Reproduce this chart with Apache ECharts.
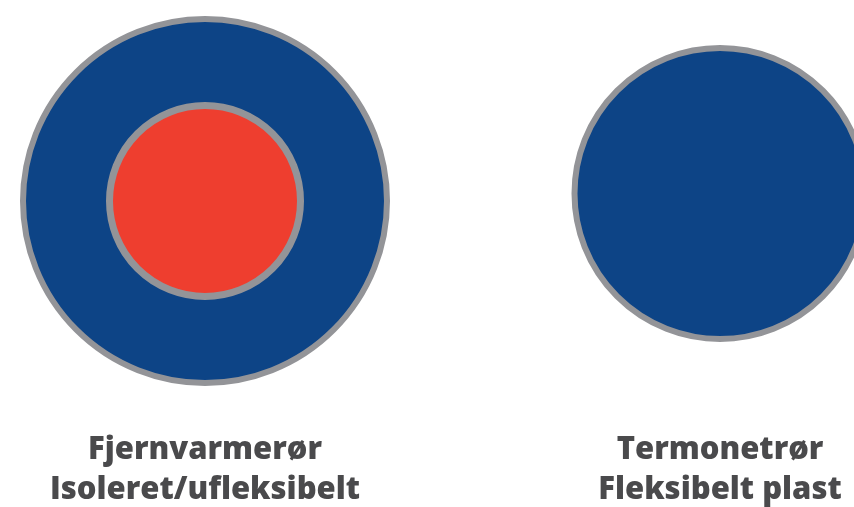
<!DOCTYPE html>
<html>
<head>
	<meta charset="utf-8">
	<title></title>
	<script src="https://cdn.jsdelivr.net/npm/echarts@6/dist/echarts.min.js"></script>
	<style>
		html, body { margin: 0; padding: 0; background: #fff; }
	</style>
</head>
<body>
	<div id="main" style="width: 854px;height:507px;"></div>
	<script type="text/javascript">
		// rørtyper og deres tværsnit
		var pipeNames = ['Fjernvarmerør', 'Termonetrør'];
		var pipeTypes = ['Isoleret/ufleksibelt', 'Fleksibelt plast'];
		var outerDiameter = [364, 291];
		var innerDiameter = [191, null];

		var myChart = echarts.init(document.getElementById('main'));

		var axisLabels = pipeNames.map(function (n, i) { return n + '\n' + pipeTypes[i]; });

		var option = {
			backgroundColor: '#ffffff',
			animation: false,
			grid: {
				left: 205,
				right: 134,
				top: 0,
				bottom: 105,
				outerBoundsMode: 'none'
			},
			xAxis: {
				type: 'category',
				data: axisLabels,
				boundaryGap: false,
				axisLine: { show: false },
				axisTick: { show: false },
				splitLine: { show: false },
				axisLabel: {
					interval: 0,
					margin: 28,
					color: '#4a4a4c',
					fontFamily: 'Open Sans',
					fontWeight: 800,
					fontSize: 31,
					lineHeight: 40,
					align: 'center'
				}
			},
			yAxis: {
				type: 'value',
				min: 0,
				max: 1,
				show: false
			},
			series: [
				{
					name: 'Kappe',
					type: 'scatter',
					symbol: 'circle',
					clip: false,
					data: outerDiameter.map(function (d, i) {
						return {
							value: [i, 0.5],
							symbolSize: d,
							symbolOffset: i === 1 ? [0, -7.5] : [0, 0]
						};
					}),
					itemStyle: {
						color: '#0d4486',
						borderColor: '#939498',
						borderWidth: 6,
						opacity: 1
					}
				},
				{
					name: 'Medierør',
					type: 'scatter',
					symbol: 'circle',
					clip: false,
					data: innerDiameter.map(function (d, i) {
						return d == null ? null : { value: [i, 0.5], symbolSize: d };
					}).filter(function (x) { return x; }),
					itemStyle: {
						color: '#ee3e2f',
						borderColor: '#939498',
						borderWidth: 7,
						opacity: 1
					}
				}
			]
		};

		myChart.setOption(option);
	</script>
</body>
</html>
